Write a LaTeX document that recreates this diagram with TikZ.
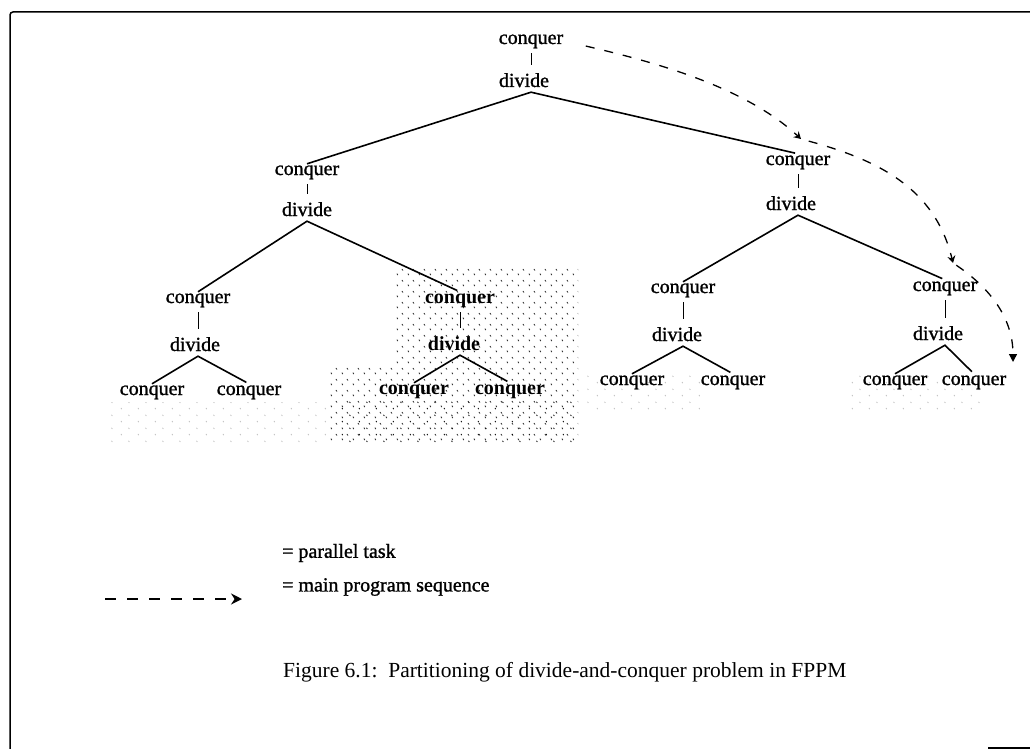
\documentclass[tikz,border=0pt]{standalone}
\usepackage{fontspec}
\setmainfont{Liberation Serif}
\newfontfamily\treefont{Liberation Serif}[FakeBold=1.2]
\usetikzlibrary{arrows.meta,patterns}

% sparse speckles used to shade the parallel tasks
\pgfdeclarepatternformonly{speckle}{\pgfpointorigin}{\pgfpoint{11pt}{11pt}}{\pgfpoint{11pt}{11pt}}{%
  \pgfsetlinewidth{0.9pt}%
  \pgfpathmoveto{\pgfpoint{1pt}{2.6pt}}\pgfpathlineto{\pgfpoint{2pt}{1pt}}%
  \pgfpathmoveto{\pgfpoint{6.5pt}{7.6pt}}\pgfpathlineto{\pgfpoint{7.5pt}{6pt}}%
  \pgfusepath{stroke}}
\pgfdeclarepatternformonly{fewspeckle}{\pgfpointorigin}{\pgfpoint{17pt}{13pt}}{\pgfpoint{17pt}{13pt}}{%
  \pgfsetlinewidth{0.8pt}%
  \pgfpathmoveto{\pgfpoint{2pt}{3.2pt}}\pgfpathlineto{\pgfpoint{2.9pt}{2pt}}%
  \pgfpathmoveto{\pgfpoint{10pt}{9.7pt}}\pgfpathlineto{\pgfpoint{10.9pt}{8.5pt}}%
  \pgfusepath{stroke}}

\begin{document}
\begin{tikzpicture}[x=1pt,y=-1pt,
  lbl/.style={inner sep=1pt, font=\fontsize{20}{24}\selectfont\treefont, text height=10pt, text depth=4pt},
  plbl/.style={lbl, font=\fontsize{20}{24}\selectfont\bfseries},
  branch/.style={line width=1.6pt, shorten >=3pt},
  tick/.style={line width=0.8pt, shorten <=4pt, shorten >=11pt},
  seq/.style={line width=1.3pt, dash pattern=on 9pt off 10pt},
  legendtxt/.style={anchor=west, inner sep=0pt, font=\fontsize{20}{24}\selectfont\treefont},
  frame/.style={line width=1.5pt}]
\useasboundingbox (0,0) rectangle (1030,749);

% frame
\draw[frame, rounded corners=3pt] (10,749) -- (10,12) -- (1030,12);
\draw[frame] (988,748) -- (1030,748);

% shading of the parallel tasks
\fill[pattern=speckle, pattern color=black!80]
  (395,268) -- (578,268) -- (578,442) -- (330,442) -- (330,366) -- (395,366) -- cycle;
\fill[pattern=fewspeckle, pattern color=black] (335,398) rectangle (578,442);
\fill[pattern=fewspeckle, pattern color=black!25] (110,402) rectangle (330,442);
\fill[pattern=fewspeckle, pattern color=black!25] (585,372) rectangle (700,410);
\fill[pattern=fewspeckle, pattern color=black!25] (850,372) rectangle (985,412);

% tree labels
\node[lbl] (c0) at (531,41) {conquer};
\node[lbl] (d0) at (524,84) {divide};

\node[lbl] (cL) at (307,172) {conquer};
\node[lbl] (dL) at (307,213) {divide};
\node[lbl] (cR) at (798,162) {conquer};
\node[lbl] (dR) at (791,207) {divide};

\node[lbl]  (cLL) at (198,300) {conquer};
\node[lbl]  (dLL) at (195,348) {divide};
\node[plbl] (cLR) at (460,300) {conquer};
\node[plbl] (dLR) at (454,347) {divide};
\node[lbl]  (cRL) at (683,290) {conquer};
\node[lbl]  (dRL) at (677,338) {divide};
\node[lbl]  (cRR) at (945,288) {conquer};
\node[lbl]  (dRR) at (938,337) {divide};

\node[lbl]  (lLL1) at (152,392) {conquer};
\node[lbl]  (lLL2) at (249,392) {conquer};
\node[plbl] (lLR1) at (414,391) {conquer};
\node[plbl] (lLR2) at (510,391) {conquer};
\node[lbl]  (lRL1) at (632,382) {conquer};
\node[lbl]  (lRL2) at (733,382) {conquer};
\node[lbl]  (lRR1) at (895,382) {conquer};
\node[lbl]  (lRR2) at (974,382) {conquer};

% conquer -> divide ticks
\foreach \c/\d in {c0/d0, cL/dL, cR/dR, cLL/dLL, cLR/dLR, cRL/dRL, cRR/dRR}
  \draw[tick] (\c.south) -- (\c.south |- \d.north);

% divide branches
\foreach \c/\d/\l/\r in {c0/d0/cL/cR, cL/dL/cLL/cLR, cR/dR/cRL/cRR,
    cLL/dLL/lLL1/lLL2, cLR/dLR/lLR1/lLR2, cRL/dRL/lRL1/lRL2, cRR/dRR/lRR1/lRR2}
  \draw[branch] (\l.north) -- (\c |- \d.south) -- (\r.north);

% main program sequence
\coordinate (s1) at (801,139);
\coordinate (s2) at (953,263);
\coordinate (s3) at (1013,362);
\draw[seq, shorten <=22pt, -{Stealth[length=7pt,width=8pt]}]
  (c0.east) .. controls (645,60) and (742,84) .. (s1);
\draw[seq, shorten <=8pt, -{Stealth[length=7pt,width=8pt]}]
  (s1) .. controls (878,160) and (935,188) .. (s2);
\draw[seq, shorten <=4pt, -{Triangle[length=8pt,width=8pt]}]
  (s2) .. controls (990,288) and (1013,318) .. (s3);

% legend
\node[legendtxt] (lp) at (282,553) {= parallel task};
\node[legendtxt] (lm) at (282,587) {= main program sequence};
\coordinate (la) at (105,599);
\coordinate (lb) at (242,599);
\draw[line width=1.5pt, dash pattern=on 11pt off 11pt, -{Stealth[length=11pt,width=11pt]}] (la) -- (lb);

% caption
\node[anchor=west, inner sep=0pt, font=\fontsize{21.5}{26}\selectfont] (cap) at (283,672)
  {Figure 6.1:\enspace Partitioning of divide-and-conquer problem in FPPM};
\end{tikzpicture}
\end{document}
